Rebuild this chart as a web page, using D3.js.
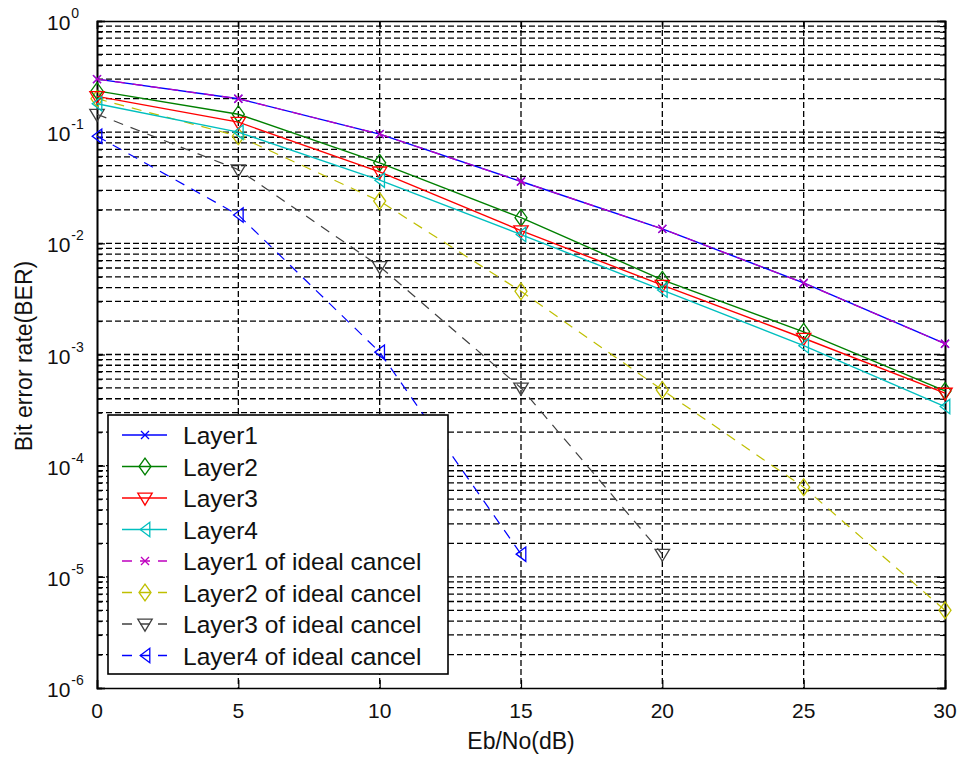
<!DOCTYPE html>
<html>
<head>
<meta charset="utf-8">
<script src="https://cdn.jsdelivr.net/npm/d3@7"></script>
<style>
  body { margin: 0; background: #fff; }
  text { font-family: "Liberation Sans", Arial, sans-serif; fill: #111; }
</style>
</head>
<body>
<svg id="chart" width="960" height="765"></svg>
<script>
var snr = [0, 5, 10, 15, 20, 25, 30];

var layer1 = [0.30, 0.20, 0.096, 0.036, 0.0135, 0.0044, 0.00125];
var layer2 = [0.235, 0.145, 0.053, 0.017, 0.0047, 0.0016, 0.00047];
var layer3 = [0.21, 0.123, 0.044, 0.013, 0.0042, 0.0014, 0.00045];
var layer4 = [0.18, 0.10, 0.037, 0.012, 0.0038, 0.0012, 0.00034];
var ideal1 = [0.30, 0.20, 0.096, 0.036, 0.0135, 0.0044, 0.00125];
var ideal2 = [0.20, 0.092, 0.024, 0.0037, 0.00048, 0.000064, 0.000005];
var ideal3 = [0.145, 0.046, 0.0062, 0.0005, 0.000016];
var ideal4 = [0.092, 0.018, 0.00105, 0.000016];

var seriesNames = ["Layer1", "Layer2", "Layer3", "Layer4",
  "Layer1 of ideal cancel", "Layer2 of ideal cancel",
  "Layer3 of ideal cancel", "Layer4 of ideal cancel"];
var seriesValues = [layer1, layer2, layer3, layer4, ideal1, ideal2, ideal3, ideal4];
var seriesColors = ["#0000ff", "#008000", "#ff0000", "#00bfbf",
  "#bf00bf", "#bfbf00", "#404040", "#0000ff"];
var seriesMarkers = ["x", "diamond", "tridown", "trileft", "x", "diamond", "tridown", "trileft"];
var seriesDashed = [false, false, false, false, true, true, true, true];

var xTicks = [0, 5, 10, 15, 20, 25, 30];
var yExponents = [0, -1, -2, -3, -4, -5, -6];

var svg = d3.select('#chart');
var plotLeft = 97, plotRight = 945, plotTop = 21, plotBottom = 688;

var x = d3.scaleLinear().domain([0, 30]).range([plotLeft, plotRight]);
var y = d3.scaleLog().domain([1e-6, 1]).range([plotBottom, plotTop]);

// minor values for the log grid
var minorVals = [];
for (var e = -6; e < 0; e++) {
  for (var m = 1; m <= 9; m++) minorVals.push(m * Math.pow(10, e));
}
minorVals.push(1);

var grid = svg.append('g');
grid.selectAll('line.h')
    .data(minorVals.filter(function(v) { return v > 1e-6 && v < 1; }))
    .enter().append('line')
    .attr('x1', plotLeft).attr('x2', plotRight)
    .attr('y1', function(d) { return y(d); })
    .attr('y2', function(d) { return y(d); })
    .attr('stroke', '#000')
    .attr('stroke-width', 1.3)
    .attr('stroke-dasharray', '6,3');

grid.selectAll('line.v')
    .data(xTicks.slice(1, -1))
    .enter().append('line')
    .attr('y1', plotTop).attr('y2', plotBottom)
    .attr('x1', function(d) { return x(d); })
    .attr('x2', function(d) { return x(d); })
    .attr('stroke', '#000')
    .attr('stroke-width', 1.3)
    .attr('stroke-dasharray', '6,3');

// axes with inward ticks
var majorY = yExponents.map(function(p) { return Math.pow(10, p); });
svg.append('g').attr('transform', 'translate(' + plotLeft + ',0)')
   .call(d3.axisLeft(y).tickValues(majorY).tickSize(-8).tickFormat(''));
svg.append('g').attr('transform', 'translate(' + plotLeft + ',0)')
   .call(d3.axisLeft(y).tickValues(minorVals).tickSize(-5).tickFormat(''));
svg.append('g').attr('transform', 'translate(' + plotRight + ',0)')
   .call(d3.axisRight(y).tickValues(majorY).tickSize(-8).tickFormat(''));
svg.append('g').attr('transform', 'translate(' + plotRight + ',0)')
   .call(d3.axisRight(y).tickValues(minorVals).tickSize(-5).tickFormat(''));
svg.append('g').attr('transform', 'translate(0,' + plotBottom + ')')
   .call(d3.axisBottom(x).tickValues(xTicks).tickSize(-8).tickFormat(''));
svg.append('g').attr('transform', 'translate(0,' + plotTop + ')')
   .call(d3.axisTop(x).tickValues(xTicks).tickSize(-8).tickFormat(''));
svg.selectAll('.domain').attr('stroke', '#000').attr('stroke-width', 1.6);
svg.selectAll('.tick line').attr('stroke', '#000').attr('stroke-width', 1.2);

// y tick labels: 10 with a superscript exponent
var yl = svg.append('g');
yExponents.forEach(function(p) {
  var t = yl.append('text')
    .attr('x', 47).attr('y', y(Math.pow(10, p)) + 9)
    .style('font-size', '21px');
  t.append('tspan').text('10');
  t.append('tspan').attr('dx', 1).attr('dy', -12).style('font-size', '14px').text(String(p));
});

// x tick labels
svg.append('g').selectAll('text')
   .data(xTicks).enter().append('text')
   .attr('x', function(d) { return x(d); })
   .attr('y', 718)
   .attr('text-anchor', 'middle')
   .style('font-size', '21px')
   .text(function(d) { return d; });

svg.append('text')
   .attr('x', x(15)).attr('y', 749)
   .attr('text-anchor', 'middle')
   .style('font-size', '23px')
   .text('Eb/No(dB)');

svg.append('text')
   .attr('transform', 'translate(32,356) rotate(-90)')
   .attr('text-anchor', 'middle')
   .style('font-size', '23px')
   .text('Bit error rate(BER)');

function markerPath(type, s) {
  if (type === 'x') return 'M' + (-s) + ',' + (-s) + 'L' + s + ',' + s + 'M' + (-s) + ',' + s + 'L' + s + ',' + (-s);
  if (type === 'diamond') return 'M0,' + (-s * 1.4) + 'L' + s + ',0L0,' + (s * 1.4) + 'L' + (-s) + ',0Z';
  if (type === 'tridown') return 'M' + (-s * 1.2) + ',' + (-s * 0.8) + 'L' + (s * 1.2) + ',' + (-s * 0.8) + 'L0,' + (s * 1.2) + 'Z';
  return 'M' + (-s * 0.8) + ',0L' + (s * 0.8) + ',' + (-s * 1.2) + 'L' + (s * 0.8) + ',' + (s * 1.2) + 'Z';
}

var line = d3.line()
   .x(function(d) { return x(d[0]); })
   .y(function(d) { return y(d[1]); });

var plot = svg.append('g');
// ideal (dashed) curves first; Layer1 goes under its magenta ideal twin
var order = [5, 6, 7, 1, 2, 3, 0, 4];
order.forEach(function(i) {
  var pts = seriesValues[i].map(function(v, k) { return [snr[k], v]; });
  plot.append('path')
      .datum(pts)
      .attr('d', line)
      .attr('fill', 'none')
      .attr('stroke', seriesColors[i])
      .attr('stroke-width', seriesDashed[i] ? 1.2 : 1.4)
      .attr('stroke-dasharray', seriesDashed[i] ? '10,8' : null);
  plot.selectAll('path.m' + i)
      .data(pts).enter().append('path')
      .attr('transform', function(d) { return 'translate(' + x(d[0]) + ',' + y(d[1]) + ')'; })
      .attr('d', markerPath(seriesMarkers[i], seriesMarkers[i] === 'x' ? 4 : 6))
      .attr('fill', 'none')
      .attr('stroke', seriesColors[i])
      .attr('stroke-width', 1.3);
});

// legend
var lg = svg.append('g');
lg.append('rect')
  .attr('x', 108).attr('y', 415).attr('width', 340).attr('height', 259)
  .attr('fill', '#fff').attr('stroke', '#000').attr('stroke-width', 1.6);
seriesNames.forEach(function(name, i) {
  var yy = 435 + i * 31.5;
  lg.append('line')
    .attr('x1', 122).attr('x2', 167).attr('y1', yy).attr('y2', yy)
    .attr('stroke', seriesColors[i]).attr('stroke-width', 1.4)
    .attr('stroke-dasharray', seriesDashed[i] ? '10,8' : null);
  lg.append('path')
    .attr('transform', 'translate(145,' + yy + ')')
    .attr('d', markerPath(seriesMarkers[i], seriesMarkers[i] === 'x' ? 4 : 6))
    .attr('fill', 'none')
    .attr('stroke', seriesColors[i]).attr('stroke-width', 1.3);
  lg.append('text')
    .attr('x', 183).attr('y', yy + 9)
    .style('font-size', '24.5px')
    .text(name);
});
</script>
</body>
</html>
